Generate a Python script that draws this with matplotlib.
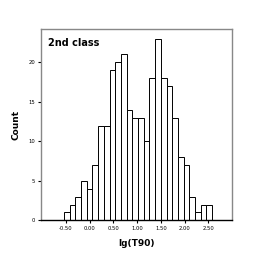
import matplotlib

matplotlib.use("Agg")

import matplotlib.pyplot as plt

# histogram of lg(T90), bin width 0.12
bin_start = -0.54
bin_width = 0.12
counts = [1, 2, 3, 5, 4, 7, 12, 12, 19, 20, 21, 14, 13,
          13, 10, 18, 23, 18, 17, 13, 8, 7, 3, 1, 2, 2]
x_ticks = [-0.5, 0.0, 0.5, 1.0, 1.5, 2.0, 2.5]
y_ticks = [0, 5, 10, 15, 20]

lefts = [bin_start + i * bin_width for i in range(len(counts))]

figure = plt.figure(figsize=(2.64, 2.64), dpi=100)
axis = figure.add_axes([0.154, 0.1655, 0.725, 0.724])

axis.bar(lefts, counts, width=bin_width, align="edge",
         facecolor="white", edgecolor="black", linewidth=0.7)

axis.set_xlim(-1.03, 3.0)
axis.set_ylim(0, 24.2)
axis.set_xticks(x_ticks)
axis.set_xticklabels([f"{t:.2f}" for t in x_ticks], fontsize=3.8)
axis.set_yticks(y_ticks)
axis.set_yticklabels([str(t) for t in y_ticks], fontsize=3.8)
axis.tick_params(axis="both", length=2, width=0.8, pad=2)

for name in ("left", "right", "top"):
    axis.spines[name].set_color("#888888")
    axis.spines[name].set_linewidth(1.0)
axis.spines["bottom"].set_color("black")
axis.spines["bottom"].set_linewidth(1.0)

axis.text(0.04, 0.955, "2nd class", transform=axis.transAxes,
          fontsize=7, fontweight="bold", ha="left", va="top")
axis.set_xlabel("lg(T90)", fontsize=6.5, fontweight="bold", labelpad=6)
axis.set_ylabel("Count", fontsize=6.5, fontweight="bold", labelpad=6)

figure.savefig("out.png", dpi=100)
